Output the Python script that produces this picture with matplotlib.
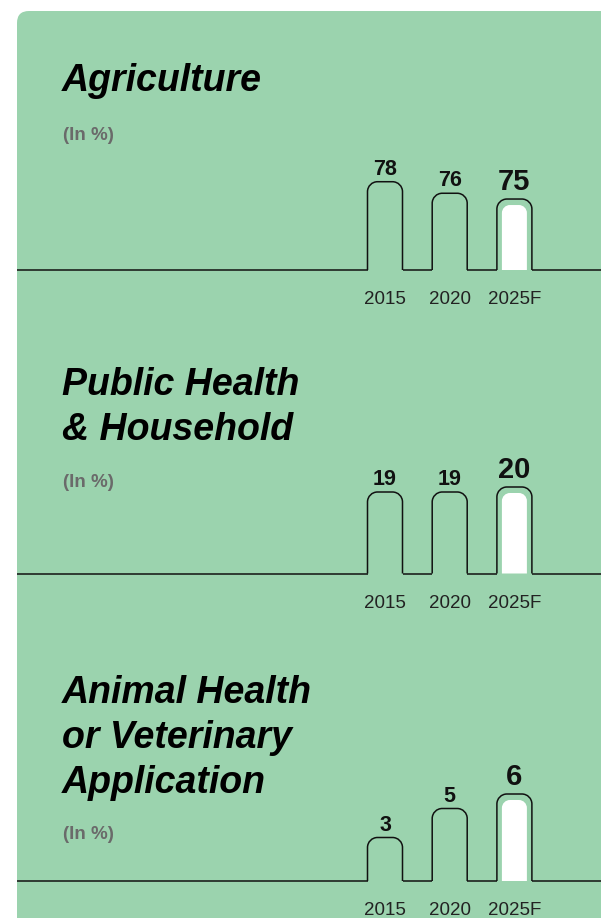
import matplotlib
matplotlib.use('Agg')
import matplotlib.pyplot as plt
from matplotlib.patches import FancyBboxPatch, PathPatch
from matplotlib.path import Path

# ---- data ----
years = ['2015', '2020', '2025F']
agriculture = [78, 76, 75]
public_health = [19, 19, 20]
animal_health = [3, 5, 6]
titles = ['Agriculture', 'Public Health\n& Household',
          'Animal Health\nor Veterinary\nApplication']
unit_label = '(In %)'

# ---- layout / style ----
W, H = 601, 918
GREEN = '#9BD3AE'
INK = '#111111'
fig = plt.figure(figsize=(W / 100, H / 100), dpi=100)
bg = fig.add_axes([0, 0, 1, 1])
bg.set_xlim(0, W)
bg.set_ylim(H, 0)
bg.axis('off')
bg.add_patch(FancyBboxPatch((17, 11), 900, 1400,
                            boxstyle='round,pad=0,rounding_size=12',
                            fc=GREEN, ec='none'))

panels = [
    dict(values=agriculture, title=titles[0], title_y=91, unit_y=140,
         base=270, floor=62.7, ppu=5.77),
    dict(values=public_health, title=titles[1], title_y=395, unit_y=487,
         base=573.5, floor=2.7, ppu=5.0),
    dict(values=animal_health, title=titles[2], title_y=703, unit_y=839,
         base=881, floor=0.0, ppu=14.5),
]

C0, STEP = 385.0, 64.7   # px of first bar center, px between bars
BAR_W = 35.0             # px
RAD = 10.0               # px corner radius
K = 0.5523
AX_H = 110.0             # px height of each plotting axes


def top_rounded(x0, x1, y0, top, rx, ry):
    verts = [(x0, y0), (x0, top - ry),
             (x0, top - ry + K * ry), (x0 + rx - K * rx, top), (x0 + rx, top),
             (x1 - rx, top),
             (x1 - rx + K * rx, top), (x1, top - ry + K * ry), (x1, top - ry),
             (x1, y0)]
    codes = [Path.MOVETO, Path.LINETO,
             Path.CURVE4, Path.CURVE4, Path.CURVE4,
             Path.LINETO,
             Path.CURVE4, Path.CURVE4, Path.CURVE4,
             Path.LINETO]
    return Path(verts, codes)


for p in panels:
    # titles
    for j, line in enumerate(p['title'].split('\n')):
        bg.text(62, p['title_y'] + 45 * j, line, fontsize=27,
                fontfamily='Liberation Sans', fontweight='bold',
                fontstyle='italic', color='black', va='baseline', ha='left')
    bg.text(63, p['unit_y'], unit_label, fontsize=13.5,
            fontfamily='Liberation Sans', fontweight='bold',
            color='#6a6a6a', va='baseline', ha='left')

    ax = fig.add_axes([17 / W, 1 - p['base'] / H, (W - 17) / W, AX_H / H])
    ax.axis('off')
    xl = ((17 - C0) / STEP, (W - C0) / STEP)
    ax.set_xlim(*xl)
    floor = p['floor']
    ax.set_ylim(floor, floor + AX_H / p['ppu'])
    half = BAR_W / STEP / 2
    rx, ry = RAD / STEP, RAD / p['ppu']
    vals = p['values']
    n = len(vals)
    # baseline segments between bars
    edges = [xl[0]]
    for i in range(n):
        edges += [i - half, i + half]
    edges.append(xl[1])
    for a, b in zip(edges[0::2], edges[1::2]):
        ax.plot([a, b], [floor, floor], color=INK, lw=1.1,
                solid_capstyle='butt', clip_on=False)
    for i, v in enumerate(vals):
        last = (i == n - 1)
        ax.add_patch(PathPatch(top_rounded(i - half, i + half, floor, v, rx, ry),
                               fc=GREEN, ec=INK, lw=1.1, clip_on=False,
                               joinstyle='round'))
        if last:
            ih = 5.0 / STEP
            ax.add_patch(PathPatch(
                top_rounded(i - half + ih, i + half - ih, floor,
                            v - 6.0 / p['ppu'], 8.0 / STEP, 8.0 / p['ppu']),
                fc='white', ec='none', clip_on=False))
        ax.annotate(str(v), (i, v), xytext=(0, 6.5 if last else 5.0),
                    textcoords='offset points', ha='center', va='baseline',
                    fontsize=21 if last else 15.5, fontweight='bold',
                    fontfamily='Liberation Sans',
                    color=INK, annotation_clip=False)
        ax.annotate(years[i], (i, floor), xytext=(0, -24.6),
                    textcoords='offset points', ha='center', va='baseline',
                    fontsize=13.5, fontfamily='Liberation Sans',
                    color='#222222', annotation_clip=False)

fig.savefig('out.png', dpi=100, facecolor='white')
